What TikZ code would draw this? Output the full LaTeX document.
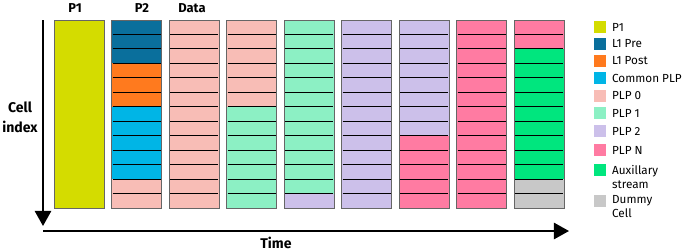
\documentclass[tikz,border=0pt]{standalone}
\usepackage{fontspec}
\setmainfont{Fira Sans}
\usetikzlibrary{arrows.meta}
\definecolor{pone}{HTML}{D4DC00}
\definecolor{lpre}{HTML}{0A6F9C}
\definecolor{lpost}{HTML}{FF7A1E}
\definecolor{cplp}{HTML}{00B5E6}
\definecolor{plpzero}{HTML}{F8BDB6}
\definecolor{plpone}{HTML}{8CF0C4}
\definecolor{plptwo}{HTML}{CCC0EA}
\definecolor{plpn}{HTML}{FF7BA2}
\definecolor{aux}{HTML}{00E67E}
\definecolor{dummy}{HTML}{C8C8C8}
\newcommand{\cellrun}[4]{\fill[#4] ({54+57.5*(#1-1)},{20+14.46*(#2-1)}) rectangle ++(50,{14.46*(#3-#2+1)});}
\tikzset{
  head/.style={font=\bfseries\fontsize{11}{13}\selectfont},
  legtext/.style={anchor=west,font=\fontsize{10}{12}\selectfont,align=left},
  bigarrow/.style={line width=1.8pt,-{Triangle[width=14pt,length=13pt]}}
}
\begin{document}
\begin{tikzpicture}[x=0.03cm,y=-0.03cm]
\useasboundingbox (0,0) rectangle (685,251);
\cellrun{1}{1}{13}{pone}
\cellrun{2}{1}{3}{lpre}
\cellrun{2}{4}{6}{lpost}
\cellrun{2}{7}{11}{cplp}
\cellrun{2}{12}{13}{plpzero}
\cellrun{3}{1}{13}{plpzero}
\cellrun{4}{1}{6}{plpzero}
\cellrun{4}{7}{13}{plpone}
\cellrun{5}{1}{12}{plpone}
\cellrun{5}{13}{13}{plptwo}
\cellrun{6}{1}{13}{plptwo}
\cellrun{7}{1}{8}{plptwo}
\cellrun{7}{9}{13}{plpn}
\cellrun{8}{1}{13}{plpn}
\cellrun{9}{1}{2}{plpn}
\cellrun{9}{3}{11}{aux}
\cellrun{9}{12}{13}{dummy}
\foreach \c in {1,...,9}
  \draw[gray!80!black,line width=0.6pt] ({54+57.5*(\c-1)},20) rectangle ++(50,188);
\foreach \c in {2,...,9}
  \foreach \r in {1,...,12}
    \draw[line width=0.8pt] ({54+57.5*(\c-1)+1},{20+14.46*\r}) -- ++(48,0);
\node[head] (pone) at (75,8) {P1};
\node[head] (ptwo) at (142,8) {P2};
\node[head] (data) at (192,8) {Data};
\coordinate (ctop) at (43,20);
\coordinate (cbot) at (43,226);
\draw[bigarrow] (ctop) -- (cbot);
\coordinate (tleft) at (43,231);
\coordinate (tright) at (569,231);
\draw[bigarrow] (tleft) -- (tright);
\node[head,align=center,font=\bfseries\fontsize{12}{17}\selectfont] (cell) at (20,117) {Cell\\index};
\node[head,font=\bfseries\fontsize{12}{14}\selectfont] (time) at (276,243) {Time};
\foreach \name/\clr/\y in {P1/pone/27,L1 Pre/lpre/44,L1 Post/lpost/61,Common PLP/cplp/78,PLP 0/plpzero/96,PLP 1/plpone/113,PLP 2/plptwo/131,PLP N/plpn/150}{
  \fill[\clr] (594,\y-6) rectangle ++(12,12);
  \node[legtext] at (608,\y) {\name};
}
\fill[aux] (594,164) rectangle ++(12,12);
\node[legtext] (auxtext) at (608,177) {Auxillary\\stream};
\fill[dummy] (594,195) rectangle ++(12,12);
\node[legtext] (dummytext) at (608,207) {Dummy\\Cell};
\end{tikzpicture}
\end{document}
